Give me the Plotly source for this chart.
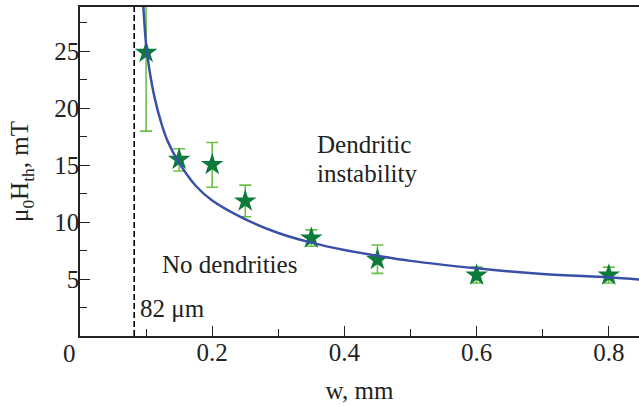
import plotly.graph_objects as go

# Measured points
w_data = [0.10, 0.15, 0.20, 0.25, 0.35, 0.45, 0.60, 0.80]
H_data = [24.9, 15.5, 15.05, 11.85, 8.6, 6.7, 5.35, 5.35]
err_plus = [6.9, 0.95, 1.95, 1.4, 0.72, 1.3, 0.7, 0.7]
err_minus = [6.9, 1.0, 1.98, 1.38, 0.72, 1.2, 0.7, 0.7]

# Fitted curve
curve_w = [0.0935, 0.0958, 0.100, 0.105, 0.113, 0.122, 0.132, 0.150, 0.175, 0.200,
           0.245, 0.300, 0.350, 0.400, 0.450, 0.500, 0.600, 0.700, 0.800, 0.850]
curve_H = [31.5, 29.0, 25.6, 23.4, 20.9, 18.9, 17.2, 15.2, 13.2, 11.9,
           10.4, 9.05, 8.2, 7.55, 7.05, 6.6, 5.95, 5.45, 5.15, 4.95]

# Threshold width
w_star = 0.082

x_ticks = [0.2, 0.4, 0.6, 0.8]
x_ticktext = ["0.2", "0.4", "0.6", "0.8"]
y_ticks = [5, 10, 15, 20, 25]

FONT = "Liberation Serif, Times New Roman, DejaVu Serif, serif"
FS = 25
TXT = dict(family=FONT, size=FS, color="#222")

fig = go.Figure()

fig.add_trace(go.Scatter(
    x=[w_star, w_star], y=[0, 29], mode="lines",
    line=dict(color="black", width=1.6, dash="6px,3px"),
    hoverinfo="skip", showlegend=False))

fig.add_trace(go.Scatter(
    x=w_data, y=H_data, mode="markers",
    marker=dict(symbol="star", size=17, color="#0b7a3b", line=dict(width=0)),
    error_y=dict(type="data", array=err_plus, arrayminus=err_minus, symmetric=False,
                 color="#6cc04a", thickness=1.6, width=6),
    showlegend=False))

fig.add_trace(go.Scatter(
    x=curve_w, y=curve_H, mode="lines", line_shape="spline",
    line=dict(color="#3a4fa8", width=2.5), showlegend=False))

fig.update_layout(
    width=639, height=407,
    margin=dict(l=80, r=0, t=7, b=71),
    paper_bgcolor="white", plot_bgcolor="white",
    font=TXT,
    xaxis=dict(range=[0, 0.8457], tickvals=x_ticks, ticktext=x_ticktext,
               tickfont=TXT, automargin=False,
               ticks="inside", ticklen=10, tickwidth=1.3, tickcolor="#222",
               minor=dict(tickvals=[0.1, 0.3, 0.5, 0.7], ticks="inside", ticklen=7,
                          tickwidth=1.3, tickcolor="#222"),
               showline=True, linecolor="#222", linewidth=1.6, mirror=True,
               showgrid=False, zeroline=False, ticklabelstandoff=-7,
               title=dict(text="w, mm", standoff=17, font=TXT)),
    yaxis=dict(range=[0, 28.9], tickvals=y_ticks, tickfont=TXT, automargin=False,
               ticks="inside", ticklen=10, tickwidth=1.3, tickcolor="#222",
               minor=dict(tickvals=[2.5, 7.5, 12.5, 17.5, 22.5, 27.5], ticks="inside",
                          ticklen=7, tickwidth=1.3, tickcolor="#222"),
               showline=True, linecolor="#222", linewidth=1.6, mirror=False,
               showgrid=False, zeroline=False, ticklabelstandoff=-6,
               title=dict(text="μ<sub>0</sub>H<sub>th</sub>, mT", standoff=18, font=TXT)),
)

fig.add_annotation(x=0, y=0, xref="x", yref="y", text="0", showarrow=False, font=TXT,
                   xanchor="center", yanchor="top", xshift=-11, yshift=-2)
fig.add_annotation(x=0.3555, y=16.8, text="Dendritic", showarrow=False, font=TXT,
                   xanchor="left", yanchor="middle")
fig.add_annotation(x=0.3555, y=14.3, text="instability", showarrow=False, font=TXT,
                   xanchor="left", yanchor="middle")
fig.add_annotation(x=0.121, y=6.3, text="No dendrities", showarrow=False, font=TXT,
                   xanchor="left", yanchor="middle")
fig.add_annotation(x=0.0877, y=2.45, text="82 μm", showarrow=False, font=TXT,
                   xanchor="left", yanchor="middle")

fig.write_html("out.html", config={"displayModeBar": False},
               post_script="document.body.style.margin='0';")
